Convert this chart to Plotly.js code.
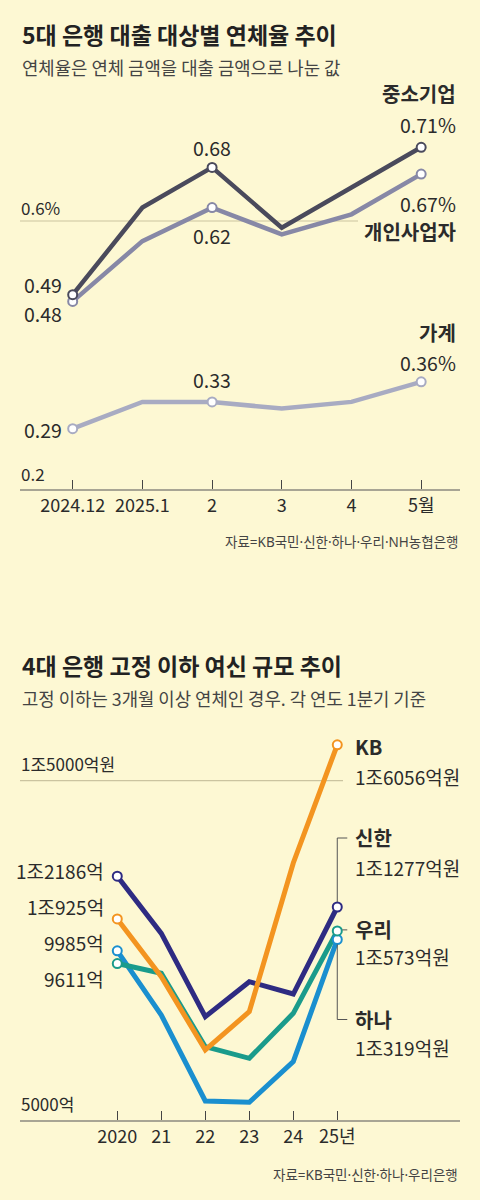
<!DOCTYPE html>
<html>
<head>
<meta charset="utf-8">
<script src="https://cdn.plot.ly/plotly-3.0.1.min.js"></script>
<style>
html,body{margin:0;padding:0;background:#fdf8d3;}
#chart{width:480px;height:1200px;}
</style>
</head>
<body>
<div id="chart"></div>
<script>
// ---- Chart 1 data: 5대 은행 대출 대상별 연체율 (%) ----
const months = ['2024.12', '2025.1', '2', '3', '4', '5월'];
const sme = [0.49, 0.62, 0.68, 0.59, 0.65, 0.71];          // 중소기업
const selfEmployed = [0.48, 0.57, 0.62, 0.58, 0.61, 0.67]; // 개인사업자
const household = [0.29, 0.33, 0.33, 0.32, 0.33, 0.36];    // 가계
const rateTickVals = [0.2, 0.6];
const rateTickText = ['0.2', '0.6%'];
const rateMarkIdx = [0, 2, 5];

// ---- Chart 2 data: 4대 은행 고정 이하 여신 (억원) ----
const years = ['2020', '21', '22', '23', '24', '25년'];
const kb = [10925, 9224, 7063, 8192, 12574, 16056];
const shinhan = [12186, 10500, 8045, 9076, 8713, 11277];
const woori = [9611, 9323, 7160, 6818, 8144, 10573];
const hana = [9985, 8094, 5560, 5521, 6718, 10319];
const nplTickVals = [5000, 15000];
const nplTickText = ['5000억', '1조5000억원'];
const nplMarkIdx = [0, 5];

const BG = '#fdf8d3';
const NARROW = "'Noto Sans CJK KR', 'Noto Sans', sans-serif";
const KR = "'Noto Sans CJK KR', 'Noto Sans', sans-serif";
const SRC = "'Noto Sans', 'Noto Sans CJK KR', sans-serif";
const TXT = '#2b2b2b';

const C_SME = '#4a4a5c', C_SELF = '#8788a6', C_HH = '#a8abc2';
const C_KB = '#f39420', C_SH = '#2e2b82', C_WR = '#1a9b8b', C_HN = '#1a8fcf';

function pick(arr, idx) { return idx.map(i => arr[i]); }
function lineTrace(x, y, color, w, xa, ya) {
  return {x: x, y: y, type: 'scatter', mode: 'lines', xaxis: xa, yaxis: ya,
    line: {color: color, width: w}, hoverinfo: 'skip', showlegend: false};
}
function markTrace(x, y, idx, color, xa, ya) {
  return {x: pick(x, idx), y: pick(y, idx), type: 'scatter', mode: 'markers', xaxis: xa, yaxis: ya,
    marker: {size: 9, color: 'white', line: {color: color, width: 2}}, hoverinfo: 'skip', showlegend: false};
}
function won(v) { return v >= 10000 ? '1조' + (v - 10000) + '억' : v + '억'; }

const traces = [
  lineTrace(months, household, C_HH, 4.5, 'x', 'y'),
  lineTrace(months, selfEmployed, C_SELF, 4.5, 'x', 'y'),
  lineTrace(months, sme, C_SME, 4.5, 'x', 'y'),
  markTrace(months, household, rateMarkIdx, C_HH, 'x', 'y'),
  markTrace(months, selfEmployed, rateMarkIdx, C_SELF, 'x', 'y'),
  markTrace(months, sme, rateMarkIdx, C_SME, 'x', 'y'),

  lineTrace(years, hana, C_HN, 5, 'x2', 'y2'),
  lineTrace(years, woori, C_WR, 5, 'x2', 'y2'),
  lineTrace(years, shinhan, C_SH, 5, 'x2', 'y2'),
  lineTrace(years, kb, C_KB, 5, 'x2', 'y2'),
  markTrace(years, hana, nplMarkIdx, C_HN, 'x2', 'y2'),
  markTrace(years, woori, nplMarkIdx, C_WR, 'x2', 'y2'),
  markTrace(years, shinhan, nplMarkIdx, C_SH, 'x2', 'y2'),
  markTrace(years, kb, nplMarkIdx, C_KB, 'x2', 'y2')
];

// category positions are passed to annotations as indices
function ann(text, xa, ya, xi, y, o) {
  return Object.assign({text: text, xref: xa, yref: ya, x: xi, y: y, showarrow: false,
    xanchor: 'center', yanchor: 'middle', font: {family: NARROW, size: 19.5, color: TXT}}, o || {});
}
const bold = () => ({family: KR, size: 20, color: TXT, weight: 700});
const wonFont = () => ({family: NARROW, size: 19, color: TXT});
const L = months.length - 1;
const Y = years.length - 1;

function yLabel(text, ya, v, shift) {
  return {text: text, xref: 'paper', yref: ya, x: 19/480, y: v, xanchor: 'left', yanchor: 'middle',
    yshift: shift, showarrow: false, font: {family: NARROW, size: 17, color: TXT}};
}

const annotations = [
  // titles
  {text: '<b>5대 은행 대출 대상별 연체율 추이</b>', xref: 'paper', yref: 'paper', x: 20/480, y: 1 - 34/1200,
   xanchor: 'left', yanchor: 'middle', showarrow: false, font: {family: KR, size: 23, color: '#222'}},
  {text: '연체율은 연체 금액을 대출 금액으로 나눈 값', xref: 'paper', yref: 'paper', x: 20/480, y: 1 - 67/1200,
   xanchor: 'left', yanchor: 'middle', showarrow: false, font: {family: KR, size: 17.8, color: '#444'}},
  {text: '자료=KB국민·신한·하나·우리·NH농협은행', xref: 'paper', yref: 'paper', x: 460/480, y: 1 - 542/1200,
   xanchor: 'right', yanchor: 'middle', showarrow: false, font: {family: SRC, size: 13.5, color: '#444'}},
  yLabel(rateTickText[0], 'y', rateTickVals[0], 16),
  yLabel(rateTickText[1], 'y', rateTickVals[1], 14),

  ann('중소기업', 'x', 'y', L, sme[L], {xanchor: 'right', xshift: 37, yshift: 54, font: bold()}),
  ann(sme[L].toFixed(2) + '%', 'x', 'y', L, sme[L], {xanchor: 'right', xshift: 37, yshift: 23}),
  ann(sme[2].toFixed(2), 'x', 'y', 2, sme[2], {yshift: 20}),
  ann(sme[0].toFixed(2), 'x', 'y', 0, sme[0], {xanchor: 'right', xshift: -9, yshift: 10}),
  ann(selfEmployed[L].toFixed(2) + '%', 'x', 'y', L, selfEmployed[L], {xanchor: 'right', xshift: 37, yshift: -29}),
  ann('개인사업자', 'x', 'y', L, selfEmployed[L], {xanchor: 'right', xshift: 37, yshift: -57, font: bold()}),
  ann(selfEmployed[2].toFixed(2), 'x', 'y', 2, selfEmployed[2], {yshift: -28}),
  ann(selfEmployed[0].toFixed(2), 'x', 'y', 0, selfEmployed[0], {xanchor: 'right', xshift: -9, yshift: -12}),
  ann('가계', 'x', 'y', L, household[L], {xanchor: 'right', xshift: 37, yshift: 49, font: bold()}),
  ann(household[L].toFixed(2) + '%', 'x', 'y', L, household[L], {xanchor: 'right', xshift: 37, yshift: 19}),
  ann(household[2].toFixed(2), 'x', 'y', 2, household[2], {yshift: 22}),
  ann(household[0].toFixed(2), 'x', 'y', 0, household[0], {xanchor: 'right', xshift: -9, yshift: -1}),

  // chart 2
  {text: '<b>4대 은행 고정 이하 여신 규모 추이</b>', xref: 'paper', yref: 'paper', x: 20/480, y: 1 - 665/1200,
   xanchor: 'left', yanchor: 'middle', showarrow: false, font: {family: KR, size: 23, color: '#222'}},
  {text: '고정 이하는 3개월 이상 연체인 경우. 각 연도 1분기 기준', xref: 'paper', yref: 'paper', x: 20/480, y: 1 - 698/1200,
   xanchor: 'left', yanchor: 'middle', showarrow: false, font: {family: KR, size: 17.8, color: '#444'}},
  {text: '자료=KB국민·신한·하나·우리은행', xref: 'paper', yref: 'paper', x: 460/480, y: 1 - 1175/1200,
   xanchor: 'right', yanchor: 'middle', showarrow: false, font: {family: SRC, size: 13.5, color: '#444'}},
  yLabel(nplTickText[0], 'y2', nplTickVals[0], 17),
  yLabel(nplTickText[1], 'y2', nplTickVals[1], 17),

  ann('KB', 'x2', 'y2', Y, kb[Y], {xanchor: 'left', xshift: 16, yshift: -2, font: bold()}),
  ann(won(kb[Y]) + '원', 'x2', 'y2', Y, kb[Y], {xanchor: 'left', xshift: 16, yshift: -32, font: wonFont()}),
  ann('신한', 'x2', 'y2', Y, shinhan[Y], {xanchor: 'left', xshift: 16, yshift: 70, font: bold()}),
  ann(won(shinhan[Y]) + '원', 'x2', 'y2', Y, shinhan[Y], {xanchor: 'left', xshift: 16, yshift: 40, font: wonFont()}),
  ann('우리', 'x2', 'y2', Y, woori[Y], {xanchor: 'left', xshift: 16, yshift: 1, font: bold()}),
  ann(won(woori[Y]) + '원', 'x2', 'y2', Y, woori[Y], {xanchor: 'left', xshift: 16, yshift: -26, font: wonFont()}),
  ann('하나', 'x2', 'y2', Y, hana[Y], {xanchor: 'left', xshift: 16, yshift: -80, font: bold()}),
  ann(won(hana[Y]) + '원', 'x2', 'y2', Y, hana[Y], {xanchor: 'left', xshift: 16, yshift: -108, font: wonFont()}),
  ann(won(shinhan[0]), 'x2', 'y2', 0, shinhan[0], {xanchor: 'right', xshift: -11, yshift: 6, font: wonFont()}),
  ann(won(kb[0]), 'x2', 'y2', 0, kb[0], {xanchor: 'right', xshift: -11, yshift: 12, font: wonFont()}),
  ann(won(hana[0]), 'x2', 'y2', 0, hana[0], {xanchor: 'right', xshift: -11, yshift: 8, font: wonFont()}),
  ann(won(woori[0]), 'x2', 'y2', 0, woori[0], {xanchor: 'right', xshift: -11, yshift: -15, font: wonFont()})
];

function seg(xa, ya, yAnchor, x0, y0, x1, y1) {
  return {type: 'line', xref: xa, yref: ya, xsizemode: 'pixel', ysizemode: 'pixel',
    xanchor: Y, yanchor: yAnchor, x0: x0, y0: y0, x1: x1, y1: y1,
    line: {color: '#555', width: 1}};
}

const shapes = [
  {type: 'line', xref: 'paper', yref: 'y', x0: 20/480, x1: 358/480, y0: rateTickVals[1], y1: rateTickVals[1],
   line: {color: '#cbc4a0', width: 1.2}, layer: 'below'},
  {type: 'line', xref: 'paper', yref: 'y2', x0: 20/480, x1: 343/480, y0: nplTickVals[1], y1: nplTickVals[1],
   line: {color: '#cbc4a0', width: 1.2}, layer: 'below'},
  seg('x2', 'y2', shinhan[Y], 0, 5, 0, 69),
  seg('x2', 'y2', shinhan[Y], 0, 69, 10, 69),
  seg('x2', 'y2', woori[Y], 5, 1, 10, 1),
  seg('x2', 'y2', hana[Y], 0, -5, 0, -80),
  seg('x2', 'y2', hana[Y], 0, -80, 10, -80)
];

const xBase = {type: 'category', showline: true, linecolor: '#a8a594', linewidth: 1.5,
  ticks: 'inside', ticklen: 9, tickwidth: 1, tickcolor: '#444', showgrid: false, zeroline: false,
  tickfont: {family: NARROW, size: 18, color: TXT}, fixedrange: true};
const yBase = {showline: false, showgrid: false, zeroline: false, ticks: '', showticklabels: false, fixedrange: true};

const layout = {
  width: 480, height: 1200,
  margin: {l: 0, r: 0, t: 0, b: 0, pad: 0},
  paper_bgcolor: BG, plot_bgcolor: BG,
  showlegend: false,
  xaxis: Object.assign({}, xBase, {domain: [20/480, 460/480], range: [-0.756, 5.557], anchor: 'y'}),
  yaxis: Object.assign({}, yBase, {domain: [1 - 489/1200, 1 - 120.5/1200], range: [0.2, 0.75], anchor: 'x'}),
  xaxis2: Object.assign({}, xBase, {domain: [20/480, 460/480], range: [-2.211, 7.789], anchor: 'y2'}),
  yaxis2: Object.assign({}, yBase, {domain: [1 - 1120/1200, 1 - 712.8/1200], range: [5000, 17000], anchor: 'x2'}),
  annotations: annotations,
  shapes: shapes
};

Plotly.newPlot('chart', traces, layout, {staticPlot: true, displayModeBar: false});
</script>
</body>
</html>
